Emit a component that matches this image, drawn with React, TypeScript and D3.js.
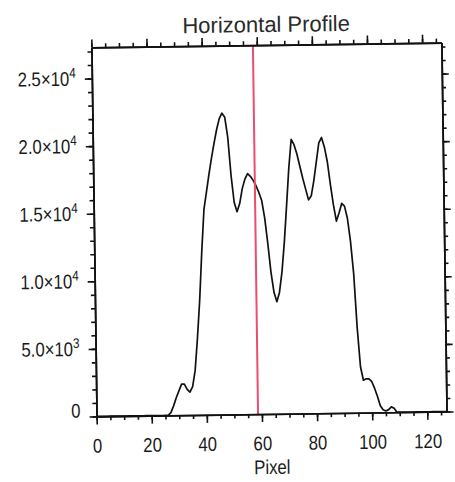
import React, { useEffect, useRef } from 'react';
import * as d3 from 'd3';

// profile values, one per pixel column
const pixels = d3.range(0, 128);
const intensity = [
  0, 0, 0, 0, 0, 0, 0, 0, 0, 0,
  0, 0, 0, 0, 0, 0, 0, 0, 0, 0,
  0, 0, 0, 0, 0, 0, 0, 200, 700, 1300,
  1800, 2300, 2300, 1900, 1700, 2100, 3300, 5700, 8500, 12100,
  15200, 16500, 17800, 19000, 20100, 21100, 21900, 22300, 22000, 20500,
  17700, 15700, 15000, 15600, 16700, 17400, 17800, 17600, 17300, 16900,
  16400, 15800, 14500, 12600, 10500, 9000, 8300, 9000, 10500, 12700,
  15400, 18200, 20300, 19900, 19200, 18300, 17400, 16600, 15800, 16100,
  17200, 18600, 20000, 20400, 19700, 18600, 16900, 15400, 14200, 14800,
  15500, 15300, 14400, 12700, 10300, 6300, 3400, 2400, 2500, 2500,
  2300, 1800, 1200, 500, 200, 100, 200, 400, 300, 0,
  0, 0, 0, 0, 0, 0, 0, 0, 0, 0,
  0, 0, 0, 0, 0, 0, 0, 0
];
const cursorPixel = 58.6;

const xMajor = [0, 20, 40, 60, 80, 100, 120];
const xMinor = d3.range(0, 128, 5);
const yMajor = [0, 5000, 10000, 15000, 20000, 25000];
const yMinor = d3.range(0, 27001, 1000);

const settings = {
  width: 455,
  height: 482,
  left: 94,
  right: 444,
  top: 45,
  bottom: 414,
  tilt: -0.8 // the scan is slightly rotated
};

const font = '"Liberation Sans", Arial, sans-serif';
const squeeze = 0.84;

const supLabel = function(d) {
  if (d === 0) return ['0', ''];
  const exp = Math.floor(Math.log10(d));
  return [(d / Math.pow(10, exp)).toFixed(1) + '×10', String(exp)];
};

export default function App() {
  const axesRef = useRef(null);
  const s = settings;

  const x = d3.scaleLinear().domain([0, 127]).range([s.left, s.right]);
  const y = d3.scaleLinear().domain([0, 27300]).range([s.bottom, s.top]);

  const line = d3.line()
    .x((d, i) => x(pixels[i]))
    .y(d => y(d));

  useEffect(() => {
    const g = d3.select(axesRef.current);
    g.selectAll('*').remove();

    const add = (axis, tf) => {
      const a = g.append('g').attr('transform', tf).call(axis);
      a.select('.domain').attr('stroke', '#111').attr('stroke-width', 1.7);
      a.selectAll('.tick line').attr('stroke', '#111').attr('stroke-width', 1.6);
      return a;
    };

    // minor ticks
    add(d3.axisBottom(x).tickValues(xMinor).tickSize(4).tickSizeOuter(0).tickFormat(''), `translate(0,${s.bottom})`);
    add(d3.axisTop(x).tickValues(xMinor).tickSize(4).tickSizeOuter(0).tickFormat(''), `translate(0,${s.top})`);
    add(d3.axisLeft(y).tickValues(yMinor).tickSize(4).tickSizeOuter(0).tickFormat(''), `translate(${s.left},0)`);
    add(d3.axisRight(y).tickValues(yMinor).tickSize(4).tickSizeOuter(0).tickFormat(''), `translate(${s.right},0)`);

    // major ticks
    const bottom = add(d3.axisBottom(x).tickValues(xMajor).tickSize(8).tickSizeOuter(0).tickPadding(14).tickFormat(d3.format('d')), `translate(0,${s.bottom})`);
    bottom.selectAll('.tick text')
      .attr('font-family', font).attr('font-size', 20).attr('fill', '#1a1a1a')
      .attr('transform', `scale(${squeeze},1)`);
    add(d3.axisTop(x).tickValues(xMajor).tickSize(8).tickSizeOuter(0).tickFormat(''), `translate(0,${s.top})`);
    add(d3.axisRight(y).tickValues(yMajor).tickSize(7).tickSizeOuter(0).tickFormat(''), `translate(${s.right},0)`);

    const left = add(d3.axisLeft(y).tickValues(yMajor).tickSize(7).tickSizeOuter(0).tickPadding(9).tickFormat(''), `translate(${s.left},0)`);
    left.selectAll('.tick text').each(function(d) {
      const t = d3.select(this);
      const [main, sup] = supLabel(d);
      t.attr('font-family', font).attr('font-size', 20).attr('fill', '#1a1a1a')
        .attr('x', -16 / squeeze)
        .attr('transform', `scale(${squeeze},1)`);
      if (d === 0) t.attr('y', -6);
      t.append('tspan').text(main);
      if (sup) t.append('tspan').attr('dy', -8).attr('font-size', 14).text(sup);
    });
  }, []);

  return (
    <svg width={s.width} height={s.height} style={{position: 'absolute', left: 0, top: 0, background: '#fff'}}>
      <g transform={`rotate(${s.tilt},268,230)`}>
        <path d={line(intensity)} fill="none" stroke="#111" strokeWidth={1.7} strokeLinejoin="round" />
        <line x1={x(cursorPixel)} x2={x(cursorPixel)} y1={s.top} y2={s.bottom} stroke="#ec4d6e" strokeWidth={2} />
        <g ref={axesRef} />
        <text x={(s.left + s.right) / 2} y={32} textAnchor="middle" fontFamily={font} fontSize={22} fill="#2a2a2a">Horizontal Profile</text>
        <text transform={`translate(${(s.left + s.right) / 2},474) scale(${squeeze},1)`} textAnchor="middle" fontFamily={font} fontSize={20} fill="#1a1a1a">Pixel</text>
      </g>
    </svg>
  );
}
